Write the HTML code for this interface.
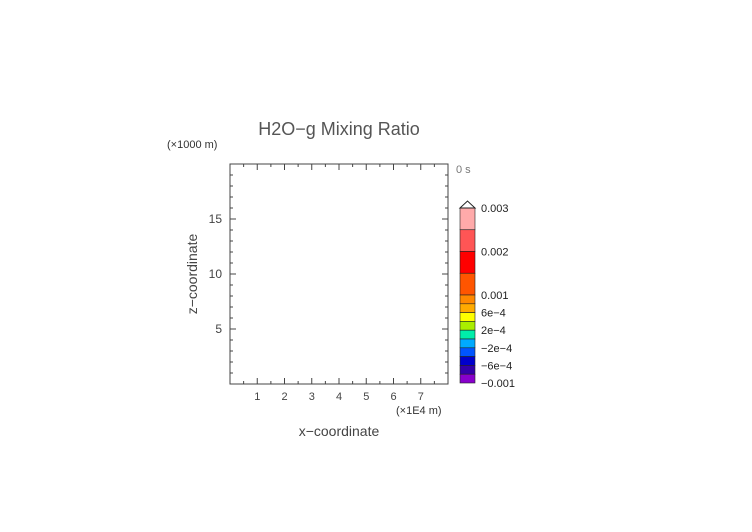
<!DOCTYPE html>
<html><head><meta charset="utf-8"><style>
body{margin:0;background:#fff;}
svg{display:block;font-family:"Liberation Sans",sans-serif;}
</style></head><body>
<svg id="c" width="752" height="532" viewBox="0 0 752 532">
<text x="339" y="135" font-size="18" fill="#555" text-anchor="middle">H2O−g Mixing Ratio</text>
<text x="167" y="148" font-size="11" fill="#333">(×1000 m)</text>
<text x="456" y="173" font-size="11" fill="#777">0 s</text>
<text x="396" y="414" font-size="11" fill="#333">(×1E4 m)</text>
<text x="339" y="436" font-size="14" fill="#444" text-anchor="middle">x−coordinate</text>
<text transform="translate(197,274) rotate(-90)" font-size="14" fill="#444" text-anchor="middle">z−coordinate</text>
<rect x="230" y="164" width="218" height="220" fill="none" stroke="#444" stroke-width="1"/>
<g id="ax"></g><g id="cb"></g>
</svg>
<script>
const xTicks=[1,2,3,4,5,6,7];
const yTicks=[5,10,15];
const cbColors=["#ffaaaa","#ff5555","#ff0000","#ff5500","#ff8800","#ffaa00","#ffff00","#aaee00","#00eeaa","#00aaff","#0055ff","#0000cc","#3300aa","#8800cc"];
const cbBounds=[0.003,0.0025,0.002,0.0015,0.001,0.0008,0.0006,0.0004,0.0002,0,-0.0002,-0.0004,-0.0006,-0.0008,-0.001];
const cbLabels=["0.003","0.002","0.001","6e-4","2e-4","-2e-4","-6e-4","-0.001"];
const cbLabelVals=[0.003,0.002,0.001,0.0006,0.0002,-0.0002,-0.0006,-0.001];
const NS="http://www.w3.org/2000/svg";
const X0=230,X1=448,Y0=384,Y1=164;
const sx=v=>X0+(X1-X0)*v/8, sy=v=>Y0-(Y0-Y1)*v/20;
const cbY=v=>v>=0.001?295-(v-0.001)*43500:295+(0.001-v)*44000;
const ax=document.getElementById('ax'),cb=document.getElementById('cb');
function el(t,a,p){const e=document.createElementNS(NS,t);for(const k in a)e.setAttribute(k,a[k]);p.appendChild(e);return e;}
for(let v=0.5;v<8;v+=0.5){const L=Number.isInteger(v)?6:3;
 const t=el('line',{x1:sx(v),x2:sx(v),y1:Y0,y2:Y0-L,stroke:'#444'},ax);
 
 
 const t2=el('line',{x1:sx(v),x2:sx(v),y1:Y1,y2:Y1+L,stroke:'#444'},ax);
 
 }
for(let v=1;v<20;v++){const L=v%5==0?6:3;
 const t=el('line',{x1:X0,x2:X0+L,y1:sy(v),y2:sy(v),stroke:'#444'},ax);
 
 
 const t2=el('line',{x1:X1,x2:X1-L,y1:sy(v),y2:sy(v),stroke:'#444'},ax);
 
 }
xTicks.forEach(v=>{const t=el('text',{x:sx(v),y:Y0+16,'font-size':11,fill:'#444','text-anchor':'middle'},ax);t.textContent=v;
 
 });
yTicks.forEach(v=>{const t=el('text',{x:X0-8,y:sy(v)+4,'font-size':12,fill:'#444','text-anchor':'end'},ax);t.textContent=v;
 
 });
cbColors.forEach((c,i)=>{const y1=cbY(cbBounds[i]),y2=cbY(cbBounds[i+1]);
 const r=el('rect',{x:460,y:y1,width:15,height:y2-y1,fill:c,stroke:'#222','stroke-width':0.6},cb);
 
 });
const cbTop=cbY(cbBounds[0]);
const tri=el('polygon',{points:`460,${cbTop} 467.5,${cbTop-7} 475,${cbTop}`,fill:'#fff',stroke:'#222'},cb);


cbLabels.forEach((s,i)=>{const t=el('text',{x:481,y:cbY(cbLabelVals[i])+4,'font-size':11,fill:'#222'},cb);t.textContent=s.replace(/-/g,'−');
 
 });
</script>
</body></html>
